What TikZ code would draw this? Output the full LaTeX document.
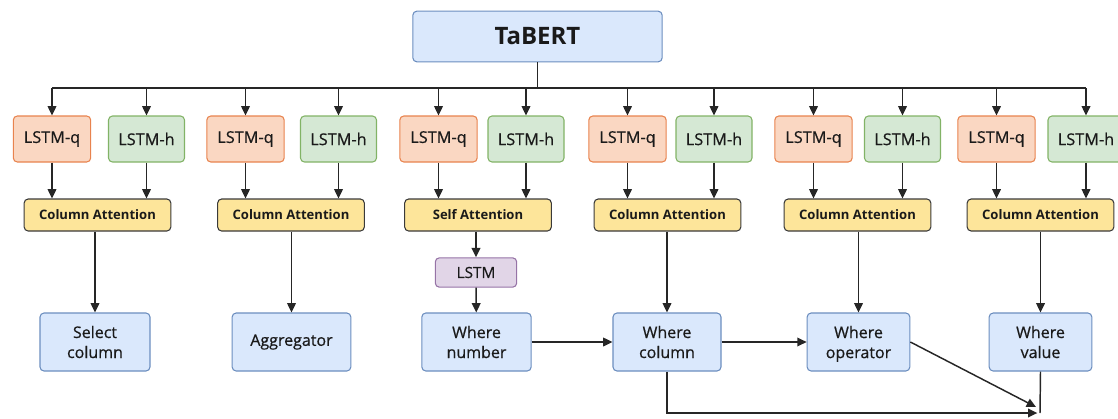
\documentclass[tikz,border=0pt]{standalone}
\usepackage{fontspec}
\setmainfont{Open Sans}
\newfontfamily\boxfont{Open Sans}[FakeBold=0.6]
\usepackage{xcolor}
\usetikzlibrary{positioning,arrows.meta,calc}

\definecolor{bertfill}{HTML}{DAE8FC}
\definecolor{bertdraw}{HTML}{6C8EBF}
\definecolor{qfill}{HTML}{FAD7C2}
\definecolor{qdraw}{HTML}{E8834E}
\definecolor{hfill}{HTML}{D5E8D4}
\definecolor{hdraw}{HTML}{82B366}
\definecolor{attfill}{HTML}{FDE59A}
\definecolor{attdraw}{HTML}{3A3A3A}
\definecolor{lstmfill}{HTML}{E1D5E7}
\definecolor{lstmdraw}{HTML}{9673A6}
\definecolor{txt}{HTML}{1A1A1A}

\begin{document}
\begin{tikzpicture}[
  x=0.75pt, y=-0.75pt,
  >={Triangle[length=7pt,width=6.5pt]},
  bert/.style={draw=bertdraw, fill=bertfill, line width=0.8pt, rounded corners=3pt, text=txt, minimum width=187pt, minimum height=38pt, font=\fontsize{18}{22}\selectfont\bfseries},
  lstmq/.style={draw=qdraw, fill=qfill, line width=0.8pt, rounded corners=3pt, text=txt, minimum width=58pt, minimum height=34.5pt, font=\boxfont\fontsize{12.2}{15}\selectfont},
  lstmh/.style={draw=hdraw, fill=hfill, line width=0.8pt, rounded corners=3pt, text=txt, minimum width=57pt, minimum height=34.5pt, font=\boxfont\fontsize{12.2}{15}\selectfont},
  att/.style={draw=attdraw, fill=attfill, line width=0.8pt, rounded corners=3pt, text=txt, minimum width=110pt, minimum height=24pt, font=\fontsize{9.8}{12}\selectfont\bfseries},
  lstmbox/.style={draw=lstmdraw, fill=lstmfill, line width=0.8pt, rounded corners=3pt, text=txt, minimum width=61pt, minimum height=22pt, font=\boxfont\fontsize{11.5}{14}\selectfont},
  outbox/.style={draw=bertdraw, fill=bertfill, line width=0.8pt, rounded corners=3pt, text=txt, minimum height=43.5pt, align=center, font=\boxfont\fontsize{12}{15}\selectfont},
  arr/.style={->, line width=1.1pt, black!85},
  conn/.style={line width=1.1pt, black!85},
]
\useasboundingbox (0,0) rectangle (1118,418);

% Encoder
\node[bert] (tabert) at (537.5,36.5) {TaBERT};
\coordinate (bus) at (537.5,88);

% Question / header encoders
\node[lstmq] (q1) at (52,139)    {LSTM-q};
\node[lstmh] (h1) at (146.5,139) {LSTM-h};
\node[lstmq] (q2) at (245.5,139) {LSTM-q};
\node[lstmh] (h2) at (338.5,139) {LSTM-h};
\node[lstmq] (q3) at (438.5,139) {LSTM-q};
\node[lstmh] (h3) at (526,139)   {LSTM-h};
\node[lstmq] (q4) at (627.5,139) {LSTM-q};
\node[lstmh] (h4) at (714,139)   {LSTM-h};
\node[lstmq] (q5) at (813.5,139) {LSTM-q};
\node[lstmh] (h5) at (902.5,139) {LSTM-h};
\node[lstmq] (q6) at (996.5,139) {LSTM-q};
\node[lstmh] (h6) at (1086,139) {LSTM-h};

% Attention layers
\node[att] (att1) at (97.5,215)  {Column Attention};
\node[att] (att2) at (291,215)   {Column Attention};
\node[att] (self) at (478,215)   {Self Attention};
\node[att] (att4) at (667.5,215) {Column Attention};
\node[att] (att5) at (857.5,215) {Column Attention};
\node[att] (att6) at (1040.5,215) {Column Attention};

% Extra LSTM for where number
\node[lstmbox] (lstm) at (476,272.5) {LSTM};

% Sub-modules
\node[outbox, minimum width=82.5pt] (selcol) at (95,342)    {Select\\column};
\node[outbox, minimum width=89pt]   (agg)    at (291.5,342) {Aggregator};
\node[outbox, minimum width=82pt]   (wnum)   at (476.5,342) {Where\\number};
\node[outbox, minimum width=81pt]   (wcol)   at (667,342)   {Where\\column};
\node[outbox, minimum width=77pt]   (wop)    at (858.5,342) {Where\\\smash{operator}};
\node[outbox, minimum width=77pt]   (wval)   at (1040.5,342) {Where\\value};
\coordinate (merge) at (1040,413);

% TaBERT -> encoders
\draw[conn] (tabert) -- (bus);
\draw[conn] (q1 |- bus) -- (h6 |- bus);
\draw[arr] (q1 |- bus) -- (q1);
\draw[arr] (h1 |- bus) -- (h1);
\draw[arr] (q2 |- bus) -- (q2);
\draw[arr] (h2 |- bus) -- (h2);
\draw[arr] (q3 |- bus) -- (q3);
\draw[arr] (h3 |- bus) -- (h3);
\draw[arr] (q4 |- bus) -- (q4);
\draw[arr] (h4 |- bus) -- (h4);
\draw[arr] (q5 |- bus) -- (q5);
\draw[arr] (h5 |- bus) -- (h5);
\draw[arr] (q6 |- bus) -- (q6);
\draw[arr] (h6 |- bus) -- (h6);

% Encoders -> attention
\draw[arr] (q1) -- (q1 |- att1.north);
\draw[arr] (h1) -- (h1 |- att1.north);
\draw[arr] (q2) -- (q2 |- att2.north);
\draw[arr] (h2) -- (h2 |- att2.north);
\draw[arr] (q3) -- (q3 |- self.north);
\draw[arr] (h3) -- (h3 |- self.north);
\draw[arr] (q4) -- (q4 |- att4.north);
\draw[arr] (h4) -- (h4 |- att4.north);
\draw[arr] (q5) -- (q5 |- att5.north);
\draw[arr] (h5) -- (h5 |- att5.north);
\draw[arr] (q6) -- (q6 |- att6.north);
\draw[arr] (h6) -- (h6 |- att6.north);

% Attention -> sub-modules
\draw[arr] (selcol |- att1.south) -- (selcol);
\draw[arr] (agg |- att2.south) -- (agg);
\draw[arr] (lstm |- self.south) -- (lstm);
\draw[arr] (lstm) -- (wnum);
\draw[arr] (wcol |- att4.south) -- (wcol);
\draw[arr] (wop |- att5.south) -- (wop);
\draw[arr] (wval |- att6.south) -- (wval);

% Where-clause chain
\draw[arr] (wnum) -- (wcol);
\draw[arr] (wcol) -- (wop);
\draw[arr] (wop.east) -- ([xshift=-3pt,yshift=4.5pt]merge);
\draw[arr] (wcol.south) |- ([xshift=-2pt]merge);
\draw[conn] (wval.south) -- (merge);

\end{tikzpicture}
\end{document}
